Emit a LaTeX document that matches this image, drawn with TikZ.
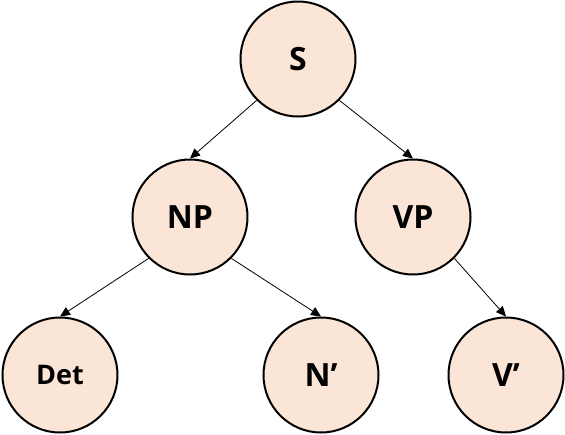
\documentclass[tikz,border=0pt]{standalone}
\usepackage{fontspec}
\setmainfont{Open Sans}
\usepackage{tikz}
\usetikzlibrary{arrows.meta}
\definecolor{peach}{HTML}{FBE5D6}

\begin{document}
\begin{tikzpicture}[x=1pt, y=1pt,
        main/.style = {draw, circle, line width=2pt, fill=peach, minimum size=115pt, inner sep=0pt, font=\bfseries\fontsize{32}{32}\selectfont},
        edge/.style = {-{Triangle[length=10pt, width=9pt]}, line width=0.8pt},
        node distance={158pt}]
        \useasboundingbox (-298,59) rectangle (267,-375);
        \node[main] (S) {S};
        \node[main] (NP) [below of=S, xshift=-108pt] {NP};
        \node[main] (VP) [below of=S, xshift=115pt] {VP};
        \node[main, font=\bfseries\fontsize{27}{27}\selectfont] (Det) [below of=NP, xshift=-130pt] {Det};
        \node[main] (N) [below of=NP, xshift=131pt] {N’};
        \node[main] (V) [below of=VP, xshift=93pt] {V’};
        \draw[edge] (S.south west) -- (NP.north);
        \draw[edge] (S.south east) -- (VP.north);
        \draw[edge] (NP.south west) -- (Det.north);
        \draw[edge] (NP.south east) -- (N.north);
        \draw[edge] (VP.south east) -- (V.north);
    \end{tikzpicture}
\end{document}
